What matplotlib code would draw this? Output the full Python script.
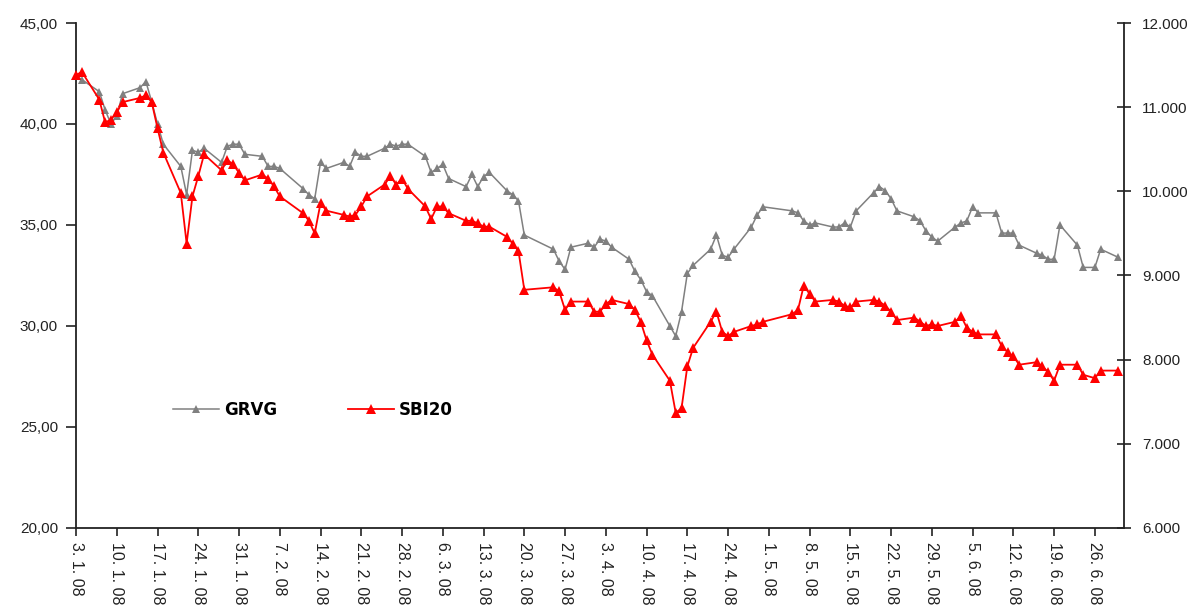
import matplotlib
matplotlib.use("Agg")
import matplotlib.pyplot as plt
from matplotlib.ticker import FuncFormatter, MultipleLocator
import pandas as pd

# -----------------------------
# Data
# -----------------------------
holidays = ["2008-02-08", "2008-03-21", "2008-03-24", "2008-05-01", "2008-05-02", "2008-06-25"]
trading_days = pd.bdate_range("2008-01-03", "2008-06-30").drop(pd.to_datetime(holidays))

# GRVG share price (left axis)
grvg_jan = [42.4, 42.2, 41.6, 40.7, 40.0, 40.4, 41.5, 41.8, 42.1, 41.1, 40.0, 39.0, 37.9, 36.5,
            38.7, 38.6, 38.8, 38.1, 38.9, 39.0, 39.0]
grvg_feb = [38.5, 38.4, 37.9, 37.9, 37.8, 36.8, 36.5, 36.3, 38.1, 37.8, 38.1, 37.9, 38.6, 38.4,
            38.4, 38.8, 39.0, 38.9, 39.0, 39.0]
grvg_mar = [38.4, 37.6, 37.8, 38.0, 37.3, 36.9, 37.5, 36.9, 37.4, 37.6, 36.7, 36.5, 36.2, 34.5,
            33.8, 33.2, 32.8, 33.9, 34.1]
grvg_apr = [33.9, 34.3, 34.2, 33.9, 33.3, 32.7, 32.3, 31.7, 31.5, 30.0, 29.5, 30.7, 32.6, 33.0,
            33.8, 34.5, 33.5, 33.4, 33.8, 34.9, 35.5, 35.9]
grvg_may = [35.7, 35.6, 35.2, 35.0, 35.1, 34.9, 34.9, 35.1, 34.9, 35.7, 36.6, 36.9, 36.7, 36.3,
            35.7, 35.4, 35.2, 34.7, 34.4, 34.2]
grvg_jun = [34.9, 35.1, 35.2, 35.9, 35.6, 35.6, 34.6, 34.6, 34.6, 34.0, 33.6, 33.5, 33.3, 33.3,
            35.0, 34.0, 32.9, 32.9, 33.8, 33.4]

# SBI20 index (right axis)
sbi_jan = [11380, 11420, 11090, 10820, 10850, 10940, 11060, 11110, 11140, 11060, 10750, 10460,
           9980, 9380, 9940, 10180, 10440, 10250, 10370, 10320, 10220]
sbi_feb = [10130, 10200, 10150, 10060, 9940, 9740, 9650, 9500, 9860, 9770, 9720, 9700, 9720,
           9820, 9940, 10080, 10180, 10080, 10150, 10030]
sbi_mar = [9820, 9670, 9820, 9820, 9740, 9650, 9650, 9620, 9580, 9580, 9460, 9380, 9290, 8830,
           8860, 8810, 8590, 8690, 8690]
sbi_apr = [8570, 8570, 8660, 8710, 8660, 8590, 8450, 8230, 8060, 7750, 7370, 7420, 7920, 8140,
           8450, 8570, 8330, 8280, 8330, 8400, 8420, 8450]
sbi_may = [8540, 8590, 8880, 8780, 8690, 8710, 8690, 8640, 8620, 8690, 8710, 8690, 8640, 8570,
           8470, 8500, 8450, 8400, 8420, 8400]
sbi_jun = [8450, 8520, 8380, 8330, 8300, 8300, 8160, 8090, 8040, 7940, 7970, 7920, 7850, 7750,
           7940, 7940, 7820, 7780, 7870, 7870]

grvg = grvg_jan + grvg_feb + grvg_mar + grvg_apr + grvg_may + grvg_jun
sbi20 = sbi_jan + sbi_feb + sbi_mar + sbi_apr + sbi_may + sbi_jun

# -----------------------------
# Plot
# -----------------------------
plt.rcParams["font.family"] = ["Liberation Sans", "DejaVu Sans"]

fig = plt.figure(figsize=(11.97, 6.15), dpi=100)
ax1 = fig.add_axes([0.0635, 0.1415, 0.8755, 0.8211])
ax2 = ax1.twinx()

l1, = ax1.plot(trading_days, grvg, color="#808080", lw=1.1, marker="^", ms=6,
               markeredgewidth=0, label="GRVG", clip_on=False, zorder=3)
l2, = ax2.plot(trading_days, sbi20, color="#ff0000", lw=1.3, marker="^", ms=6.5,
               markeredgewidth=0, label="SBI20", clip_on=False, zorder=3)

ax1.set_ylim(20, 45)
ax2.set_ylim(6000, 12000)
ax1.yaxis.set_major_locator(MultipleLocator(5))
ax2.yaxis.set_major_locator(MultipleLocator(1000))
ax1.yaxis.set_major_formatter(FuncFormatter(lambda v, p: f"{v:.2f}".replace(".", ",")))
ax2.yaxis.set_major_formatter(FuncFormatter(lambda v, p: f"{int(v):,}".replace(",", ".")))

# weekly date ticks (Thursdays)
ax1.set_xlim(pd.Timestamp("2008-01-03"), pd.Timestamp("2008-07-01"))
week_ticks = pd.date_range("2008-01-03", "2008-06-26", freq="7D")
ax1.set_xticks(week_ticks)
ax1.set_xticklabels([f"{d.day}. {d.month}. 08" for d in week_ticks], rotation=270,
                    va="top", ha="center")

for s in ["top", "right"]:
    ax1.spines[s].set_visible(False)
for s in ["top", "left", "bottom"]:
    ax2.spines[s].set_visible(False)
for sp in [ax1.spines["left"], ax1.spines["bottom"], ax2.spines["right"]]:
    sp.set_color("#222222")
    sp.set_linewidth(1.3)

ax1.tick_params(axis="y", direction="out", length=7, width=1.2, pad=6, labelsize=11, colors="#222222")
ax1.tick_params(axis="x", direction="out", length=6, width=1.2, pad=4, labelsize=11.5, colors="#222222")
ax2.tick_params(axis="y", direction="inout", length=10, width=1.2, pad=8, labelsize=11, colors="#222222")

ax1.legend(handles=[l1, l2], loc="center left", bbox_to_anchor=(0.078, 0.234), ncol=2,
           frameon=False, columnspacing=4.2, handlelength=2.8, handletextpad=0.3,
           prop={"weight": "bold", "size": 12, "family": "DejaVu Sans"})

fig.savefig("out.png", dpi=100)
